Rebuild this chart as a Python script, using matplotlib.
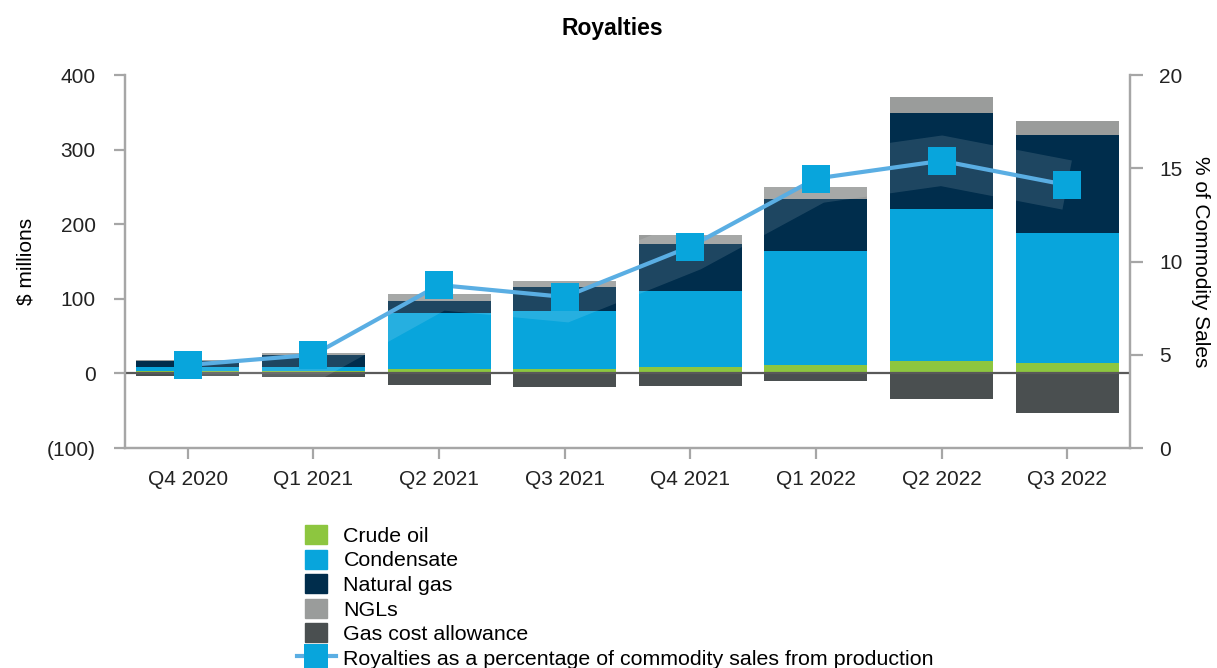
import numpy as np
import matplotlib
matplotlib.use("Agg")
import matplotlib.pyplot as plt
from matplotlib.patches import Patch
from matplotlib.lines import Line2D
from matplotlib.legend_handler import HandlerLine2D

plt.rcParams['font.family'] = ['Liberation Sans', 'DejaVu Sans']

# ==== Data ====
quarters = ["Q4 2020", "Q1 2021", "Q2 2021", "Q3 2021", "Q4 2021", "Q1 2022", "Q2 2022", "Q3 2022"]
crude_oil = [3.5, 3.5, 6, 6, 8.5, 11, 17, 14]
condensate = [5.5, 5.5, 75.5, 78, 102, 153, 204, 174]
natural_gas = [8, 15.5, 15.5, 32.5, 63, 70, 128.5, 131.5]
ngls = [0.5, 3, 9, 8, 12, 16, 21.5, 19]
gas_cost_allowance = [-4, -4.5, -15, -18, -17, -9.5, -34, -52.5]
royalty_pct = [4.45, 5.0, 8.74, 8.1, 10.8, 14.45, 15.4, 14.1]

colors = {
    "Crude oil": "#8DC63F",
    "Condensate": "#08A5DC",
    "Natural gas": "#002D4C",
    "NGLs": "#9A9C9B",
    "Gas cost allowance": "#4A4F50",
}
line_color = "#5AAEE3"
marker_color = "#08A5DC"
axis_gray = "#A6A6A6"
fs = 15


class WideLineHandler(HandlerLine2D):
    # stretch the legend line beyond the square marker
    def create_artists(self, legend, orig_handle, xdescent, ydescent,
                       width, height, fontsize, trans):
        return super().create_artists(legend, orig_handle, xdescent + 6, ydescent,
                                      width + 12, height, fontsize, trans)


# ==== Figure ====
fig = plt.figure(figsize=(12.17, 6.68), dpi=100)
ax = fig.add_axes([0.1027, 0.3293, 0.8258, 0.5584])
ax2 = ax.twinx()

x = np.arange(len(quarters))
w = 0.82

bottom = np.zeros(len(quarters))
for name, vals in [("Crude oil", crude_oil), ("Condensate", condensate),
                   ("Natural gas", natural_gas), ("NGLs", ngls)]:
    ax.bar(x, vals, w, bottom=bottom, color=colors[name], zorder=2)
    bottom += np.array(vals)
ax.bar(x, gas_cost_allowance, w, color=colors["Gas cost allowance"], zorder=2)

ax.axhline(0, color="#595959", lw=1.6, zorder=3)

ax.set_xlim(-0.5, len(quarters) - 0.5)
ax.set_ylim(-100, 400)
ax.set_yticks([-100, 0, 100, 200, 300, 400])
ax.set_yticklabels(["(100)", "0", "100", "200", "300", "400"])
ax.set_xticks(x)
ax.set_xticklabels(quarters)
ax.set_ylabel("$ millions", fontsize=fs, labelpad=8)

# ==== Line on secondary axis ====
ax2.set_ylim(0, 20)
ax2.set_yticks([0, 5, 10, 15, 20])
ax2.plot(x, royalty_pct, color="white", lw=36, alpha=0.12,
         solid_capstyle="butt", solid_joinstyle="miter", zorder=1)
ax2.plot(x, royalty_pct, color=line_color, lw=3, zorder=2)
ax2.plot(x, royalty_pct, ls="none", marker="s", ms=20, color=marker_color,
         markeredgewidth=0, zorder=3)
ax2.set_ylabel("% of Commodity Sales", fontsize=fs, rotation=-90, labelpad=20)

for a in (ax, ax2):
    a.spines["top"].set_visible(False)
    for s in ("left", "right", "bottom"):
        a.spines[s].set_color(axis_gray)
        a.spines[s].set_linewidth(1.6)
    a.tick_params(colors="#222222", labelsize=fs)
ax.tick_params(axis="y", length=8, width=1.6, color=axis_gray, pad=13)
ax.tick_params(axis="x", length=8, width=1.6, color=axis_gray, pad=8)
ax2.tick_params(axis="y", length=9, width=1.6, color=axis_gray, pad=12)

fig.text(0.503, 0.958, "Royalties", ha="center", va="center",
         fontsize=16.5, fontweight="bold")

# ==== Legend ====
handles = [Patch(color=colors[k]) for k in colors]
royalty_handle = Line2D([], [], color=line_color, lw=3, marker="s", ms=17,
                        markerfacecolor=marker_color, markeredgewidth=0)
handles.append(royalty_handle)
labels = list(colors.keys()) + ["Royalties as a percentage of commodity sales from production"]
fig.legend(handles, labels, loc="upper left", bbox_to_anchor=(0.2506, 0.214),
           frameon=False, fontsize=fs + 0.4, handlelength=1.05, handleheight=1.0,
           labelspacing=0.17, handletextpad=0.75, borderpad=0, borderaxespad=0,
           handler_map={royalty_handle: WideLineHandler()})

fig.savefig("out.png", dpi=100)
